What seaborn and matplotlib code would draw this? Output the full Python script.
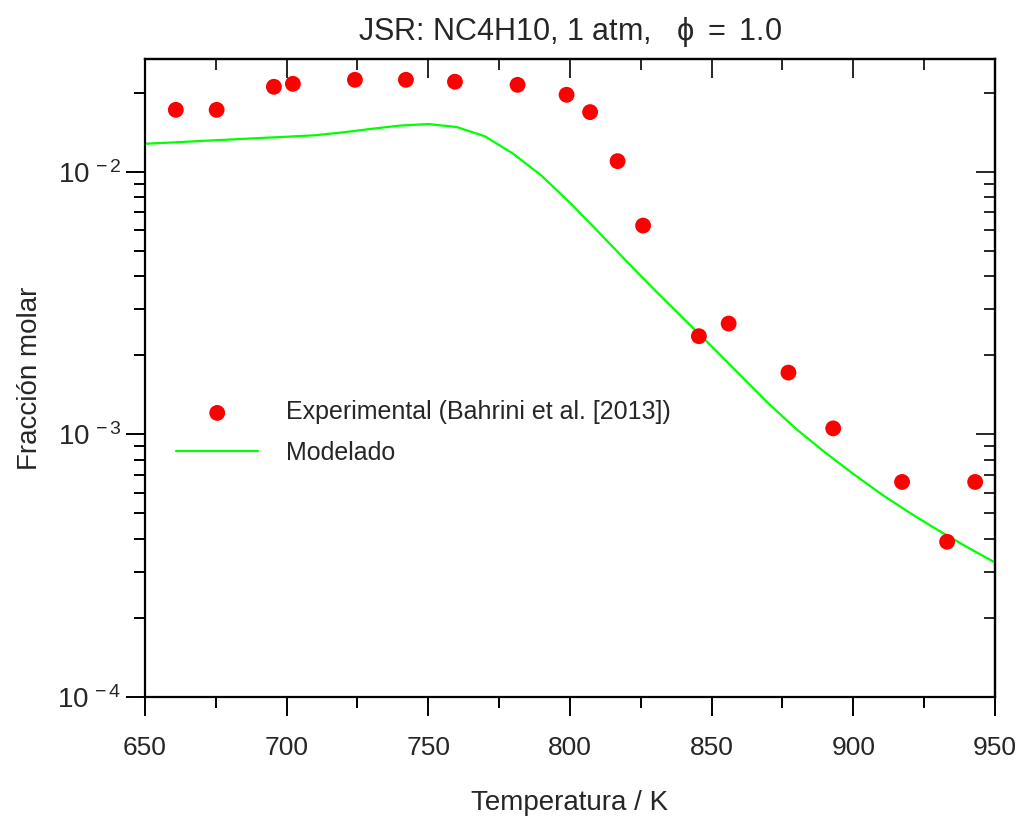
import numpy as np
import pandas as pd
import seaborn as sns
import matplotlib.pyplot as plt
from matplotlib.ticker import LogLocator, NullFormatter, MultipleLocator, FuncFormatter

# experimental points (Bahrini et al. 2013)
T_exp = [660.9, 675.3, 695.5, 702.2, 724.1, 742.1, 759.4, 781.5, 798.8, 807.1,
         816.8, 825.8, 845.5, 856.0, 877.1, 892.9, 917.2, 933.1, 943.0]
x_exp = [0.01722, 0.01722, 0.02108, 0.02163, 0.02241, 0.02241, 0.02203, 0.02144, 0.01965, 0.01688,
         0.01098, 0.00624, 0.002366, 0.002643, 0.001719, 0.001054, 0.000659, 0.000390, 0.000659]

# model
T_mod = [650, 660, 670, 680, 690, 700, 710, 720, 730, 740, 750, 760, 770, 780, 790, 800,
         810, 820, 830, 840, 850, 860, 870, 880, 890, 900, 910, 920, 930, 940, 950]
x_mod = [0.01279, 0.01294, 0.01311, 0.01327, 0.01344, 0.01360, 0.01378, 0.01414, 0.01458, 0.01500,
         0.01520, 0.01481, 0.01365, 0.01171, 0.00966, 0.00762, 0.00591, 0.004561, 0.003536, 0.002766,
         0.002164, 0.001685, 0.001313, 0.001045, 0.000854, 0.000707, 0.000591, 0.000502, 0.000431,
         0.000373, 0.000325]

df_exp = pd.DataFrame({'T': T_exp, 'x': x_exp})
df_mod = pd.DataFrame({'T': T_mod, 'x': x_mod})

sns.set_style('white')
plt.rcParams['font.family'] = ['Liberation Sans', 'DejaVu Sans']
plt.rcParams['mathtext.fontset'] = 'custom'
plt.rcParams['mathtext.rm'] = 'Liberation Sans'
plt.rcParams['mathtext.it'] = 'Liberation Sans'
plt.rcParams['mathtext.sf'] = 'Liberation Sans'

fig = plt.figure(figsize=(10.18, 8.19), dpi=100)
ax = fig.add_axes([0.1424, 0.149, 0.835, 0.779])

sns.scatterplot(data=df_exp, x='T', y='x', ax=ax, color='#ff0000', s=130,
                edgecolor='none', label='Experimental (Bahrini et al. [2013])', zorder=3)
sns.lineplot(data=df_mod, x='T', y='x', ax=ax, color='#00ff00', linewidth=1.6,
             label='Modelado', zorder=2)

ax.set_yscale('log')
ax.set_xlim(650, 950)
ax.set_ylim(1e-4, 0.0269)
ax.xaxis.set_major_locator(MultipleLocator(50))
ax.xaxis.set_minor_locator(MultipleLocator(25))
ax.yaxis.set_major_locator(LogLocator(base=10))
ax.yaxis.set_minor_locator(LogLocator(base=10, subs=np.arange(2, 10)))
ax.yaxis.set_major_formatter(FuncFormatter(lambda v, p: r'$10^{\,%d}$' % round(np.log10(v))))
ax.yaxis.set_minor_formatter(NullFormatter())

for s in ax.spines.values():
    s.set_linewidth(1.6)
    s.set_color('black')

ax.tick_params(which='major', direction='out', length=14, width=1.4, color='black')
ax.tick_params(which='minor', direction='out', length=8, width=1.4, color='black')
ax.tick_params(axis='x', which='major', labelsize=19, pad=14)
ax.tick_params(axis='y', which='major', labelsize=20, pad=3)
ax.tick_params(axis='x', which='both', bottom=True)
ax.tick_params(axis='y', which='both', left=True)

# inward ticks on top and right
top = ax.secondary_xaxis('top')
top.xaxis.set_major_locator(MultipleLocator(50))
top.xaxis.set_minor_locator(MultipleLocator(25))
top.tick_params(which='major', direction='in', length=14, width=1.4, labeltop=False)
top.tick_params(which='minor', direction='in', length=8, width=1.4)
right = ax.secondary_yaxis('right')
right.yaxis.set_major_locator(LogLocator(base=10))
right.yaxis.set_minor_locator(LogLocator(base=10, subs=np.arange(2, 10)))
right.yaxis.set_minor_formatter(NullFormatter())
right.tick_params(which='major', direction='in', length=14, width=1.4, labelright=False)
right.tick_params(which='minor', direction='in', length=8, width=1.4)
for sec in (top, right):
    for s in sec.spines.values():
        s.set_linewidth(1.6)

ax.set_xlabel('Temperatura / K', fontsize=20, labelpad=22)
ax.set_ylabel('Fracción molar', fontsize=20, labelpad=10)
ax.set_title(r'JSR: NC4H10, 1 atm,   $\phi\ =\ 1.0$', fontsize=22, pad=14)

ax.legend(loc='upper left', bbox_to_anchor=(0.01, 0.50), frameon=False, fontsize=18,
          handlelength=3.3, handletextpad=1.1, labelspacing=0.65)

fig.savefig('out.png', dpi=100)
